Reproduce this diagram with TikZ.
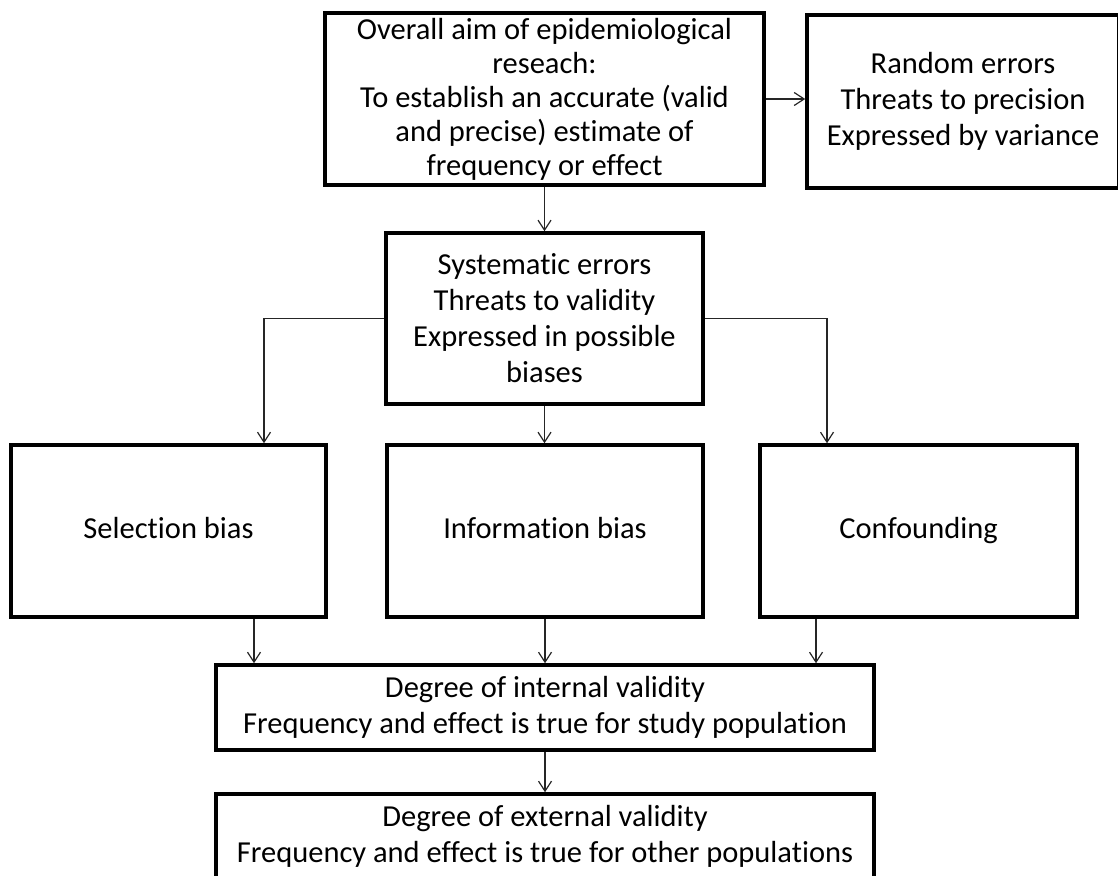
\documentclass[tikz,border=0pt]{standalone}
\usepackage{fontspec}
\setmainfont{Carlito}[Ligatures=NoCommon]
\usetikzlibrary{arrows.meta}
\begin{document}
\begin{tikzpicture}[x=1pt,y=-1pt,
  box/.style={draw=black, line width=3.5pt, inner sep=0pt, align=center,
    font=\fontsize{30.5}{36}\selectfont},
  oneline/.style={text height=21pt, text depth=7pt},
  arr/.style={draw=black!85, line width=1.2pt,
    -{Straight Barb[length=10pt,width=13pt]}}]
\useasboundingbox (0,0) rectangle (1118,875);

% boxes
\node[box, font=\fontsize{30.5}{34}\selectfont, minimum width=439, minimum height=172] (aim) at (544.5,99)
  {Overall aim of epidemiological\\reseach:\\To establish an accurate (valid\\and precise) estimate of\\frequency or effect};
\node[box, minimum width=312, minimum height=173] (rand) at (963,101.5)
  {Random errors\\Threats to precision\\Expressed by variance};
\node[box, minimum width=317, minimum height=171] (sys) at (544.5,318.5)
  {Systematic errors\\Threats to validity\\Expressed in possible\\biases};
\node[box, oneline, minimum width=315, minimum height=172] (sel) at (168.5,531) {Selection bias};
\node[box, oneline, minimum width=316, minimum height=172] (info) at (545,531) {Information bias};
\node[box, oneline, minimum width=317, minimum height=172] (conf) at (918.5,531) {Confounding};
\node[box, minimum width=658, minimum height=85] (intv) at (545,707.5)
  {Degree of internal validity\\Frequency and effect is true for study population};
\node[box, minimum width=658, minimum height=85] (extv) at (545,836.5)
  {Degree of external validity\\Frequency and effect is true for other populations};

% connectors
\draw[arr] (aim.south) -- (aim.south |- sys.north);
\draw[arr] (aim.east) -- (aim.east -| rand.west);
\draw[arr] (sys.south) -- (sys.south |- info.north);
\draw[arr] (sys.west) -| ([xshift=95.5pt]sel.north);
\draw[arr] (sys.east) -| ([xshift=-91.5pt]conf.north);
\draw[arr] ([xshift=85.5pt]sel.south) -- ([xshift=85.5pt]sel.south |- intv.north);
\draw[arr] (info.south) -- (info.south |- intv.north);
\draw[arr] ([xshift=-102.5pt]conf.south) -- ([xshift=-102.5pt]conf.south |- intv.north);
\draw[arr] (intv.south) -- (intv.south |- extv.north);
\end{tikzpicture}
\end{document}
